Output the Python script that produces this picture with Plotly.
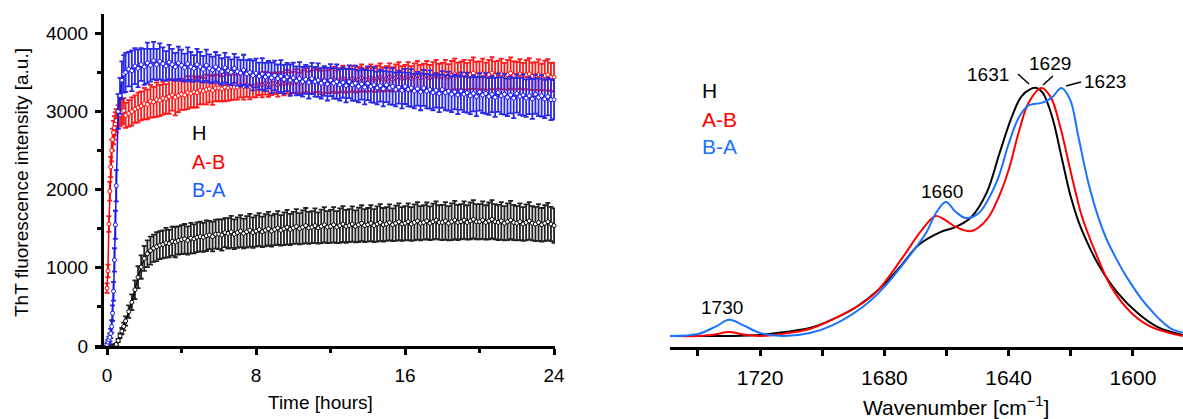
import plotly.graph_objects as go

# ---------------- Left panel: ThT kinetics ----------------
time_min = [0, 3, 6, 9, 12, 15, 18, 21, 24, 27, 30, 36, 42, 48, 54] + list(range(60, 1441, 10))
time_h = [m / 60 for m in time_min]

ab_val = [740, 960, 1560, 1980, 2290, 2500, 2640, 2730, 2790, 2840, 2880, 2930, 2960, 2990, 3010,
          2950, 2975, 3000, 3030, 3050, 3070,
          3100, 3090, 3130, 3120, 3150, 3140,
          3170, 3160, 3190, 3210, 3180, 3200,
          3220, 3210, 3240, 3230, 3250, 3240,
          3270, 3260, 3280, 3290, 3270, 3300,
          3300, 3290, 3310, 3300, 3320, 3310,
          3310, 3330, 3320, 3340, 3320, 3330,
          3330, 3350, 3340, 3360, 3340, 3350,
          3360, 3340, 3370, 3350, 3380, 3360,
          3370, 3390, 3360, 3380, 3400, 3370,
          3380, 3400, 3390, 3370, 3400, 3380,
          3390, 3410, 3380, 3400, 3420, 3390,
          3400, 3420, 3390, 3410, 3430, 3400,
          3410, 3430, 3400, 3420, 3440, 3410,
          3420, 3440, 3410, 3430, 3450, 3420,
          3430, 3450, 3420, 3440, 3460, 3430,
          3440, 3460, 3430, 3450, 3470, 3440,
          3450, 3470, 3440, 3460, 3480, 3450,
          3460, 3470, 3450, 3470, 3490, 3460,
          3460, 3480, 3450, 3470, 3490, 3460,
          3470, 3480, 3450, 3470, 3490, 3460,
          3460, 3480, 3450, 3470, 3480, 3450,
          3450, 3470, 3440, 3460, 3470, 3440,
          3440]
ab_err = [60, 80, 100, 120, 130, 140, 140, 150, 150, 150, 150, 150, 150, 160, 160,
          160, 170, 180, 175, 190, 185,
          200, 190, 210, 195, 220, 200,
          210, 190, 220, 200, 230, 210,
          200, 190, 210, 180, 200, 190,
          180, 170, 190, 175, 185, 170,
          170, 160, 180, 165, 175, 160,
          160, 150, 170, 155, 165, 150,
          150, 140, 160, 145, 155, 140,
          140, 150, 135, 145, 150, 140,
          140, 150, 135, 145, 155, 140,
          145, 155, 140, 150, 160, 145,
          150, 160, 145, 155, 165, 150,
          150, 165, 145, 160, 170, 150,
          155, 170, 150, 165, 175, 155,
          160, 175, 155, 170, 180, 160,
          165, 180, 160, 175, 185, 165,
          170, 185, 165, 180, 190, 170,
          170, 190, 165, 185, 195, 175,
          175, 190, 170, 185, 200, 175,
          180, 195, 175, 190, 205, 180,
          180, 195, 170, 190, 200, 180,
          175, 190, 170, 185, 200, 175,
          180, 195, 170, 190, 200, 180,
          185]

ba_val = [20, 50, 80, 110, 160, 250, 420, 700, 1100, 1550, 2050, 3000, 3200, 3400, 3480,
          3500, 3540, 3520, 3580, 3550, 3600,
          3570, 3620, 3590, 3650, 3600, 3640,
          3610, 3580, 3630, 3600, 3570, 3620,
          3590, 3560, 3610, 3570, 3550, 3600,
          3570, 3540, 3590, 3550, 3530, 3570,
          3540, 3510, 3560, 3520, 3500, 3550,
          3510, 3490, 3530, 3480, 3500, 3460,
          3490, 3450, 3480, 3440, 3470, 3430,
          3460, 3420, 3450, 3410, 3440, 3400,
          3430, 3390, 3420, 3380, 3410, 3370,
          3420, 3380, 3400, 3360, 3390, 3350,
          3400, 3360, 3380, 3340, 3370, 3330,
          3380, 3340, 3360, 3320, 3350, 3310,
          3360, 3320, 3340, 3300, 3330, 3290,
          3340, 3300, 3320, 3280, 3310, 3270,
          3320, 3280, 3300, 3260, 3290, 3250,
          3300, 3260, 3280, 3240, 3270, 3230,
          3280, 3240, 3260, 3220, 3250, 3210,
          3260, 3220, 3240, 3200, 3230, 3190,
          3250, 3210, 3230, 3190, 3220, 3180,
          3240, 3200, 3220, 3180, 3210, 3170,
          3230, 3190, 3210, 3170, 3200, 3160,
          3220, 3180, 3200, 3160, 3190, 3150,
          3150]
ba_err = [20, 30, 40, 50, 60, 80, 100, 120, 150, 180, 200, 220, 230, 240, 240,
          250, 220, 260, 230, 240, 210,
          230, 260, 210, 240, 200, 230,
          210, 190, 220, 200, 180, 210,
          200, 180, 210, 190, 170, 200,
          190, 170, 200, 180, 170, 190,
          180, 170, 190, 175, 165, 185,
          180, 170, 195, 175, 170, 190,
          185, 175, 200, 180, 175, 195,
          190, 180, 205, 185, 180, 200,
          195, 185, 210, 190, 185, 205,
          200, 190, 215, 195, 190, 210,
          205, 195, 220, 200, 195, 215,
          210, 200, 225, 205, 200, 220,
          215, 205, 230, 210, 205, 225,
          220, 210, 235, 215, 210, 230,
          225, 215, 240, 220, 215, 235,
          230, 220, 245, 225, 220, 240,
          235, 225, 250, 230, 225, 245,
          240, 230, 255, 235, 230, 250,
          240, 230, 260, 235, 230, 250,
          245, 235, 260, 240, 235, 255,
          245, 235, 265, 240, 235, 255,
          250, 240, 265, 245, 240, 260,
          250]

h_val = [0, 0, 0, 0, 0, 0, 0, 0, 0, 5, 20, 70, 130, 190, 250,
         320, 440, 560, 720, 880, 1010,
         1120, 1180, 1220, 1250, 1270, 1290,
         1300, 1320, 1310, 1340, 1330, 1350,
         1360, 1370, 1350, 1380, 1370, 1390,
         1400, 1390, 1410, 1420, 1400, 1430,
         1430, 1420, 1450, 1440, 1460, 1430,
         1450, 1470, 1440, 1460, 1480, 1450,
         1470, 1490, 1460, 1480, 1500, 1470,
         1490, 1510, 1480, 1500, 1520, 1490,
         1510, 1530, 1500, 1520, 1540, 1510,
         1520, 1540, 1510, 1530, 1550, 1520,
         1530, 1550, 1520, 1540, 1560, 1530,
         1540, 1560, 1530, 1550, 1570, 1540,
         1550, 1570, 1540, 1560, 1580, 1550,
         1560, 1580, 1550, 1570, 1590, 1560,
         1570, 1590, 1560, 1580, 1600, 1570,
         1580, 1600, 1570, 1590, 1610, 1580,
         1580, 1600, 1570, 1590, 1610, 1580,
         1590, 1610, 1580, 1600, 1620, 1590,
         1590, 1610, 1580, 1600, 1620, 1590,
         1580, 1600, 1570, 1590, 1610, 1580,
         1570, 1590, 1560, 1580, 1600, 1570,
         1560, 1580, 1550, 1570, 1590, 1560,
         1540]
h_err = [0, 0, 0, 0, 0, 0, 0, 0, 0, 5, 10, 20, 30, 40, 50,
         60, 80, 100, 120, 140, 150,
         160, 170, 180, 175, 185, 180,
         180, 190, 175, 185, 195, 180,
         185, 190, 180, 195, 185, 190,
         190, 185, 195, 180, 190, 185,
         190, 200, 185, 195, 205, 190,
         195, 205, 190, 200, 210, 195,
         200, 210, 195, 205, 215, 200,
         200, 215, 195, 210, 220, 200,
         205, 220, 200, 215, 225, 205,
         205, 220, 200, 215, 225, 205,
         210, 225, 205, 220, 230, 210,
         210, 225, 205, 220, 230, 210,
         215, 230, 210, 225, 235, 215,
         215, 230, 210, 225, 235, 215,
         220, 235, 215, 230, 240, 220,
         220, 235, 215, 230, 240, 220,
         225, 240, 220, 235, 245, 225,
         225, 240, 220, 235, 245, 225,
         225, 240, 220, 235, 245, 225,
         225, 240, 220, 235, 245, 225,
         220, 235, 215, 230, 240, 220,
         220, 235, 215, 230, 240, 220,
         220]

# ---------------- Right panel: FTIR spectra ----------------
h_wn = [1750, 1740, 1730, 1720, 1712, 1704, 1697, 1689, 1682, 1675, 1669, 1662, 1657, 1652,
        1647, 1643, 1639, 1636, 1633, 1631, 1629, 1626, 1623, 1620, 1617.5, 1615, 1611, 1605,
        1598.5, 1592, 1584]
h_abs = [0.0, 0.0, 0.0, 0.004, 0.016, 0.032, 0.065, 0.117, 0.185, 0.278, 0.367, 0.419, 0.440,
         0.480, 0.580, 0.735, 0.883, 0.964, 0.995, 1.0, 0.98, 0.883, 0.722, 0.560, 0.460,
         0.385, 0.285, 0.175, 0.093, 0.036, 0.004]

ab_wn = [1750, 1740, 1735, 1730, 1725, 1720, 1712, 1704, 1697, 1687, 1682, 1674, 1668, 1663.5,
         1660.5, 1657, 1652, 1647, 1643.2, 1640, 1636.8, 1633.6, 1629.5, 1626.5, 1623.4, 1620,
         1618, 1616.5, 1612, 1607, 1600.5, 1594, 1584]
ab_abs = [0.0, 0.0, 0.005, 0.016, 0.005, 0.0, 0.01, 0.028, 0.065, 0.133, 0.185, 0.319, 0.427,
          0.484, 0.468, 0.440, 0.423, 0.470, 0.560, 0.670, 0.820, 0.940, 1.0, 0.964, 0.843,
          0.660, 0.555, 0.485, 0.335, 0.198, 0.093, 0.036, 0.0]

ba_wn = [1750, 1740, 1734, 1730, 1725.5, 1720, 1712.6, 1704, 1696.6, 1687, 1680.6, 1673,
         1666.6, 1663.4, 1660.2, 1657, 1653.8, 1649.6, 1644, 1640, 1636.8, 1633.6, 1629.4,
         1626.2, 1623, 1620.2, 1617.6, 1614.4, 1611.2, 1608.5, 1605.8, 1603.2, 1600.6,
         1597.4, 1594.2, 1591, 1587.8, 1584]
ba_abs = [0.0, 0.008, 0.040, 0.065, 0.044, 0.012, 0.0, 0.012, 0.044, 0.117, 0.190, 0.306,
          0.415, 0.496, 0.540, 0.500, 0.476, 0.496, 0.617, 0.775, 0.880, 0.930, 0.940,
          0.960, 1.0, 0.952, 0.805, 0.620, 0.480, 0.390, 0.322, 0.262, 0.210, 0.152, 0.104,
          0.062, 0.030, 0.014]

series_names = ["H", "A-B", "B-A"]

W, H = 1183, 419
FONT = "Arial, Liberation Sans, sans-serif"
RED = "#FF0000"
BLUE_L = "#1414F0"
BLUE_R = "#1A73FF"


def px(x):
    return x / W


def py(y):
    return (H - y) / H


fig = go.Figure()

for vals, errs, col, ecol in [(h_val, h_err, "black", "#222222"),
                              (ab_val, ab_err, RED, "#FF1A1A"),
                              (ba_val, ba_err, BLUE_L, "#2828E8")]:
    fig.add_trace(go.Scatter(
        x=time_h, y=vals, mode="lines+markers", xaxis="x", yaxis="y",
        line=dict(color=col, width=1.5),
        marker=dict(symbol="circle", size=4, color="white", line=dict(color=col, width=1)),
        error_y=dict(type="data", array=errs, color=ecol, thickness=1.8, width=2.5),
        cliponaxis=False, showlegend=False))

for wn, ab, col in [(h_wn, h_abs, "black"), (ab_wn, ab_abs, RED), (ba_wn, ba_abs, BLUE_R)]:
    fig.add_trace(go.Scatter(
        x=wn, y=ab, mode="lines", xaxis="x2", yaxis="y2",
        line=dict(color=col, width=2, shape="spline", smoothing=1.0),
        showlegend=False))

axis_common = dict(showline=True, linecolor="black", linewidth=3, showgrid=False,
                   zeroline=False, ticks="outside", tickcolor="black", tickwidth=3,
                   ticklen=6, automargin=False)

fig.update_layout(
    width=W, height=H, margin=dict(l=0, r=0, t=0, b=0, autoexpand=False),
    paper_bgcolor="white", plot_bgcolor="rgba(0,0,0,0)",
    font=dict(family=FONT, color="black"),
    xaxis=dict(domain=[px(95), px(555)], range=[-0.644, 24.05], anchor="y",
               tickvals=[0, 8, 16, 24], tickfont=dict(size=19),
               ticklabelstandoff=4,
               minor=dict(tickvals=[4, 12, 20], ticks="outside", ticklen=4,
                          tickwidth=3, tickcolor="black", showgrid=False),
               **axis_common),
    yaxis=dict(domain=[py(346), py(14)], range=[0, 4246], anchor="free",
               position=px(102), tickvals=[0, 1000, 2000, 3000, 4000],
               tickfont=dict(size=19), ticklabelstandoff=3,
               minor=dict(tickvals=[500, 1500, 2500, 3500], ticks="outside", ticklen=4,
                          tickwidth=3, tickcolor="black", showgrid=False),
               **axis_common),
    xaxis2=dict(domain=[px(670), 1.0], range=[1749, 1583.9], anchor="y2",
                tickvals=[1720, 1680, 1640, 1600], tickfont=dict(size=21),
                ticklabelstandoff=4,
                minor=dict(tickvals=[1740, 1700, 1660, 1620], ticks="outside", ticklen=6,
                           tickwidth=3, tickcolor="black", showgrid=False),
                **axis_common),
    yaxis2=dict(domain=[py(347), py(20)], range=[-0.0444, 1.274], anchor="x2",
                visible=False, automargin=False),
)

ann = []


def text(x, y, s, size, color="black", angle=0, xanchor="center"):
    ann.append(dict(x=px(x), y=py(y), xref="paper", yref="paper", text=s, showarrow=False,
                    font=dict(size=size, color=color, family=FONT), textangle=angle,
                    xanchor=xanchor, yanchor="middle"))


# axis titles
text(22, 183, "ThT fluorescence intensity [a.u.]", 19, angle=-90)
text(320, 402, "Time [hours]", 19)
text(956, 406, "Wavenumber [cm<sup>−1</sup>]", 21)

# legends
leg_cols = ["black", RED, "#1560FF"]
for name, col, yy in zip(series_names, leg_cols, [133, 162, 190]):
    text(190, yy, name, 20, color=col, xanchor="left")
leg_cols_r = ["black", RED, BLUE_R]
for name, col, yy in zip(series_names, leg_cols_r, [91, 119, 147]):
    text(700, yy, name, 21, color=col, xanchor="left")

# peak labels
text(722, 307, "1730", 19)
text(942, 191, "1660", 19)
text(988, 74, "1631", 19)
text(1050, 64, "1629", 19)
text(1105, 82, "1623", 19)
fig.update_layout(annotations=ann)

for (x0, y0, x1, y1) in [(1018, 74, 1029, 84), (1043, 85, 1053, 76), (1066, 86, 1081, 82)]:
    fig.add_shape(type="line", xref="paper", yref="paper", x0=px(x0), y0=py(y0),
                  x1=px(x1), y1=py(y1), line=dict(color="black", width=1.5))

fig.write_html("out.html", config={"displayModeBar": False},
               post_script="document.body.style.margin='0';document.body.style.overflow='hidden';")
